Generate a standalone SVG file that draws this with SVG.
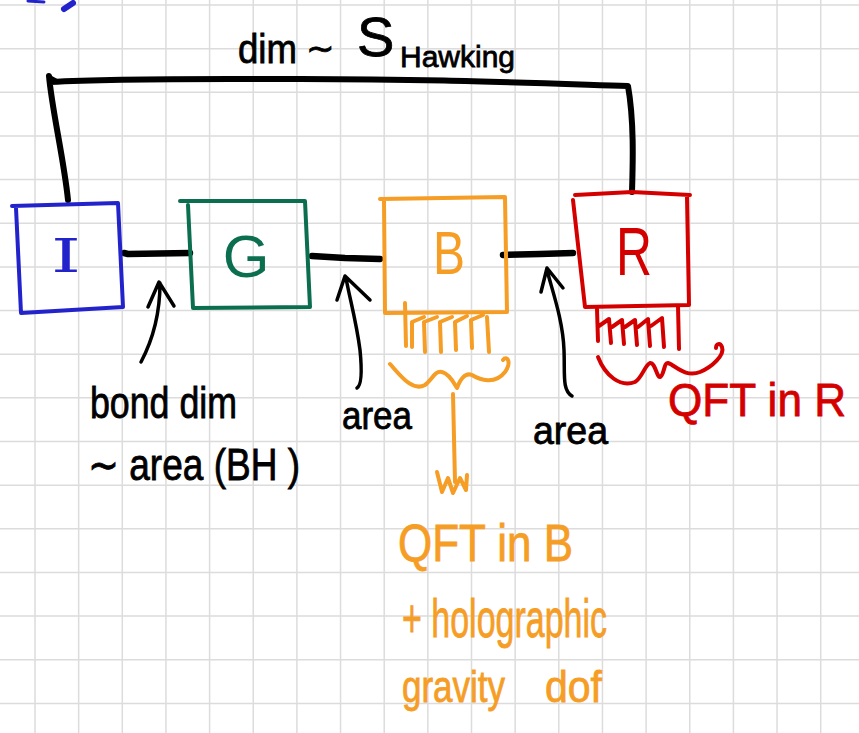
<svg xmlns="http://www.w3.org/2000/svg" width="859" height="733" viewBox="0 0 859 733">
<style>
.ln{fill:none;stroke-linecap:round;stroke-linejoin:round}
.grid{fill:none;stroke:#dcdcdc;stroke-width:1.5}
.blk{stroke:#000}
.blu{stroke:#2323cc}
.grn{stroke:#0b6e4f}
.org{stroke:#f59d25}
.red{stroke:#d40000}
.box{stroke-width:4}
.bar{stroke:#000;stroke-width:6.5}
.arr{stroke:#000;stroke-width:3.5}
.frg{stroke-width:4}
text{font-family:"Liberation Sans","DejaVu Sans",sans-serif}
.tk{fill:#000;stroke:#000;stroke-width:0.8}
.to{fill:#f59d25;stroke:#f59d25;stroke-width:0.8}
.tr{fill:#d40000;stroke:#d40000;stroke-width:0.8}
</style>
<rect width="859" height="733" fill="#ffffff"/>
<path class="grid" d="M35,0V733M78.65,0V733M122.3,0V733M165.95,0V733M209.6,0V733M253.25,0V733M296.9,0V733M340.55,0V733M384.2,0V733M427.85,0V733M471.5,0V733M515.15,0V733M558.8,0V733M602.45,0V733M646.1,0V733M689.75,0V733M733.4,0V733M777.05,0V733M820.7,0V733M0,5H859M0,48.65H859M0,92.3H859M0,135.95H859M0,179.6H859M0,223.25H859M0,266.9H859M0,310.55H859M0,354.2H859M0,397.85H859M0,441.5H859M0,485.15H859M0,528.8H859M0,572.45H859M0,616.1H859M0,659.75H859M0,703.4H859"/>
<path class="ln blu" stroke-width="3" d="M28,1 L44,2"/>
<path class="ln blu" stroke-width="6" d="M64,9 L73,3"/>

<g id="connectors">
<path class="ln blk" stroke-width="6" d="M68,200 C64,160 52,110 49,76 L50,82 C120,78 200,79 300,79 C420,79 500,82 628,86 C634,120 633,160 632,192"/>
<path class="ln blk" stroke-width="3" d="M49,76 L58,81"/>
<path class="ln bar" d="M124,253 L128,254 L190,253"/>
<path class="ln bar" d="M312,256 L345,258 L380,259"/>
<path class="ln bar" d="M503,255 L540,254 L573,253"/>
<path class="ln arr" d="M141,362 C150,345 160,320 160,283 M148,307 L159,282 L174,306"/>
<path class="ln arr" d="M357,388 C362,385 362,370 360,350 C356,320 350,300 346,278 M337,300 L345,276 L370,300"/>
<path class="ln arr" d="M547,270 C552,290 563,320 564,350 C565,375 562,390 572,396 M541,292 L547,268 L563,288"/>
<path class="ln org" stroke-width="4" d="M453,394 L455,482 M437,472 L442,492 L448,478 L453,493 L460,478 L466,490 L467,475"/>
</g>

<g id="node-I">
<path class="ln blu box" d="M12,206 L118,203 L123,307 L21,313 L16,208"/>
<text x="51" y="272" style="font-family:'DejaVu Serif',serif" font-size="46" fill="#2323cc" textLength="30" lengthAdjust="spacingAndGlyphs">I</text>
</g>

<g id="node-G">
<path class="ln grn box" d="M180,201 L305,201 L310,307 L193,308 L188,205"/>
<text x="246" y="277" text-anchor="middle" font-size="60" fill="#0b6e4f">G</text>
</g>

<g id="node-B">
<path class="ln org box" d="M380,199 L505,197 L507,312 L385,313 L384,201"/>
<text x="433" y="274" font-size="62" fill="#f59d25" textLength="32" lengthAdjust="spacingAndGlyphs">B</text>
<path class="ln org frg" d="M405,303 L406,346 M412,347 L412,322 L424,317 M425,352 L424,322 L437,317 M441,352 L440,322 L452,317 M456,350 L455,322 L467,316 M472,348 L471,320 L483,315 M489,352 L487,317"/>
<path class="ln org" stroke-width="4" d="M390,364 C400,375 412,392 425,385 C432,380 435,370 442,372 C450,374 455,385 457,388 C460,380 465,372 472,375 C480,380 495,385 505,372 C512,362 507,355 503,360"/>
</g>

<g id="node-R">
<path class="ln red box" d="M575,195 L632,192 L690,195 M687,197 L689,305 L585,307 L573,200"/>
<text x="616" y="275" font-size="68" fill="#d40000" textLength="36" lengthAdjust="spacingAndGlyphs">R</text>
<path class="ln red frg" d="M597,309 L598,341 M599,326 L609,319 L611,343 M612,327 L622,320 L624,344 M625,327 L635,320 L637,345 M638,327 L648,319 L650,346 M651,326 L662,318 L664,347 M678,306 L679,349"/>
<path class="ln red" stroke-width="4" d="M598,357 C605,375 620,388 635,382 C642,378 645,365 650,363 C655,362 657,378 660,377 C664,376 664,362 668,363 C675,365 685,378 700,372 C712,367 725,355 722,347 C720,342 716,344 716,348"/>
</g>

<g id="labels">
<text class="tk"><tspan x="238" y="63" font-size="40" textLength="59" lengthAdjust="spacingAndGlyphs">dim</tspan><tspan x="306" y="60" font-size="34">∼</tspan><tspan x="357" y="56" font-size="56">S</tspan><tspan x="400" y="67" font-size="30" textLength="115" lengthAdjust="spacingAndGlyphs">Hawking</tspan></text>
<text class="tk" x="90" y="418" font-size="44" textLength="147" lengthAdjust="spacingAndGlyphs">bond dim</text>
<text class="tk" x="88" y="480" font-size="44" textLength="212" lengthAdjust="spacingAndGlyphs">∼ area (BH )</text>
<text class="tk" x="342" y="429" font-size="38" textLength="70" lengthAdjust="spacingAndGlyphs">area</text>
<text class="tk" x="533" y="444" font-size="38" textLength="75" lengthAdjust="spacingAndGlyphs">area</text>
<text class="tr" x="668" y="416" font-size="46" textLength="178" lengthAdjust="spacingAndGlyphs">QFT in R</text>
<text class="to" x="398" y="561" font-size="52" textLength="175" lengthAdjust="spacingAndGlyphs">QFT in B</text>
<text class="to" x="402" y="637" font-size="54" textLength="205" lengthAdjust="spacingAndGlyphs">+ holographic</text>
<text class="to" font-size="44"><tspan x="402" y="702" textLength="103" lengthAdjust="spacingAndGlyphs">gravity</tspan><tspan x="545" y="702" textLength="57" lengthAdjust="spacingAndGlyphs">dof</tspan></text>
</g>
</svg>
